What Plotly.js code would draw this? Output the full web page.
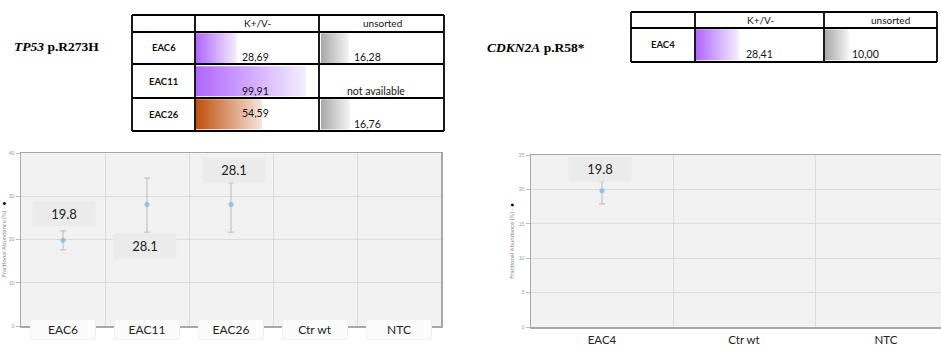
<!DOCTYPE html>
<html>
<head>
<meta charset="utf-8">
<script src="https://cdn.plot.ly/plotly-3.0.1.min.js"></script>
<style>html,body{margin:0;padding:0;background:#fff;}#chart{width:941px;height:349px;}</style>
</head>
<body>
<div id="chart"></div>
<script>
// ---------- data ----------
const leftGene = '<i>TP53</i> p.R273H';
const rightGene = '<i>CDKN2A</i> p.R58*';
const tableHeaders = ['K+/V-', 'unsorted'];
const leftRows = ['EAC6', 'EAC11', 'EAC26'];
const leftKV = [28.69, 99.91, 54.59];
const leftUnsorted = [16.28, null, 16.76];
const rightRows = ['EAC4'];
const rightKV = [28.41];
const rightUnsorted = [10.00];
const missingText = 'not available';

const leftCats = ['EAC6', 'EAC11', 'EAC26', 'Ctr wt', 'NTC'];
const leftFA = [19.8, 28.1, 28.1, null, null];
const leftUpper = [22.0, 34.2, 33.1, null, null];
const leftLower = [17.6, 21.7, 21.7, null, null];
const rightCats = ['EAC4', 'Ctr wt', 'NTC'];
const rightFA = [19.8, null, null];
const rightUpper = [21.2, null, null];
const rightLower = [17.9, null, null];
const yTitle = 'Fractional Abundance (%) - <span style="color:#000">●</span>';

// ---------- layout helpers ----------
const W = 941, H = 349;
const px = x => x / W;
const py = y => 1 - y / H;
const fmt = v => v.toFixed(2).replace('.', ',');

const PURPLE = [[0, '#b066ff'], [1, '#f5efff']];
const BROWN = [[0, '#c0500f'], [1, '#f5e6dc']];
const GRAY = [[0, '#a8a8a8'], [1, '#f4f4f4']];
const leftKVScales = [PURPLE, PURPLE, BROWN];

const traces = [];
const shapes = [];
const annotations = [];

function barTrace(v, i, base, scale, xa, ya) {
  const t0 = i + 0.04, t1 = i + 0.95;
  return {
    type: 'scatter', x: [base, v, v, base, base], y: [t0, t0, t1, t1, t0],
    fill: 'toself', mode: 'lines', line: {width: 0, color: 'rgba(0,0,0,0)'},
    fillcolor: scale[0][1],
    fillgradient: {type: 'horizontal', colorscale: scale},
    xaxis: xa, yaxis: ya, hoverinfo: 'skip', showlegend: false
  };
}

// chart backgrounds (tables stay white)
['', '2'].forEach(n => shapes.push({type: 'rect', xref: 'x' + n + ' domain', yref: 'y' + n + ' domain',
  x0: 0, x1: 1, y0: 0, y1: 1, fillcolor: '#f2f2f2', line: {width: 0}, layer: 'below'}));

// ---------- scatter charts ----------
function errTrace(cats, vals, up, lo, xa, ya) {
  return {
    type: 'scatter', mode: 'markers', x: cats, y: vals,
    marker: {color: '#8ec1ee', size: 5},
    error_y: {type: 'data', symmetric: false,
      array: vals.map((v, i) => v == null ? null : +(up[i] - v).toFixed(2)),
      arrayminus: vals.map((v, i) => v == null ? null : +(v - lo[i]).toFixed(2)),
      color: '#c4c4c4', thickness: 1.2, width: 3},
    xaxis: xa, yaxis: ya, showlegend: false, hoverinfo: 'x+y'
  };
}
traces.push(errTrace(leftCats, leftFA, leftUpper, leftLower, 'x', 'y'));
traces.push(errTrace(rightCats, rightFA, rightUpper, rightLower, 'x2', 'y2'));

// value labels
const labelFont = {family: 'Lato, "Open Sans", sans-serif', size: 13, color: '#222'};
const leftLabelShift = [[1, 26], [-2, -42], [3, 34.5], null, null];
leftFA.forEach((v, i) => {
  if (v == null) return;
  annotations.push({xref: 'x', yref: 'y', x: leftCats[i], y: v, text: v.toFixed(1),
    showarrow: false, xshift: leftLabelShift[i][0], yshift: leftLabelShift[i][1],
    width: 60, height: 22, bgcolor: '#ebebeb', font: labelFont});
});
rightFA.forEach((v, i) => {
  if (v == null) return;
  annotations.push({xref: 'x2', yref: 'y2', x: rightCats[i], y: v, text: v.toFixed(1),
    showarrow: false, xshift: -2, yshift: 21.5,
    width: 60, height: 22, bgcolor: '#ebebeb', font: labelFont});
});
// left category labels in faint boxes
leftCats.forEach(c => {
  annotations.push({xref: 'x', yref: 'paper', x: c, y: py(339.5), text: c, showarrow: false,
    width: 62, height: 17, bgcolor: '#fbfbfb', bordercolor: '#f0f0f0', borderwidth: 1,
    font: {family: 'Lato, "Open Sans", sans-serif', size: 12, color: '#222'}});
});

// ---------- tables ----------
const kvBaseL = -13.6;
leftKV.forEach((v, i) => traces.push(barTrace(v, i, kvBaseL, leftKVScales[i], 'x3', 'y3')));
leftUnsorted.forEach((v, i) => { if (v != null) traces.push(barTrace(v, i, 0, GRAY, 'x4', 'y4')); });
rightKV.forEach((v, i) => traces.push(barTrace(v, i, 0, PURPLE, 'x5', 'y5')));
rightUnsorted.forEach((v, i) => traces.push(barTrace(v, i, 0, GRAY, 'x6', 'y6')));

const line = (x0, y0, x1, y1, w) => shapes.push({type: 'line', xref: 'paper', yref: 'paper',
  x0: px(x0), y0: py(y0), x1: px(x1), y1: py(y1), line: {color: '#000', width: w}});
[15, 32, 64, 98, 131].forEach(y => line(132, y, 444, y, 2));
[132, 195, 319, 444].forEach(x => line(x, 15, x, 131, 1.8));
[12, 28, 62].forEach(y => line(631, y, 937, y, 2));
[631, 695, 824, 937].forEach(x => line(x, 12, x, 62, 1.8));

const cellFont = {family: 'Lato, "Open Sans", sans-serif', size: 10.5, color: '#111'};
const headFont = {family: 'Lato, "Open Sans", sans-serif', size: 10, color: '#111'};
const boldFont = {family: 'Lato, "Open Sans", sans-serif', size: 9.5, color: '#111', weight: 'bold'};
const txt = (x, y, t, f, xa) => annotations.push({xref: 'paper', yref: 'paper', x: px(x), y: py(y),
  text: t, showarrow: false, font: f, xanchor: xa || 'center', yanchor: 'middle'});

txt(257, 23.5, tableHeaders[0], headFont);
txt(382, 23.5, tableHeaders[1], headFont);
txt(760, 20, tableHeaders[0], headFont);
txt(890, 20, tableHeaders[1], headFont);
const rowTop = [32, 64, 98], rowBot = [64, 98, 131];
const kvValign = ['bottom', 'bottom', 'middle'];
leftRows.forEach((r, i) => {
  const mid = (rowTop[i] + rowBot[i]) / 2;
  txt(163.5, mid, '<b>' + r + '</b>', boldFont);
  txt(255.5, kvValign[i] === 'bottom' ? rowBot[i] - 7 : mid - 1.5, fmt(leftKV[i]), cellFont);
  if (leftUnsorted[i] != null) txt(367.5, rowBot[i] - 7.5, fmt(leftUnsorted[i]), cellFont);
  else txt(375.5, rowBot[i] - 7, missingText, cellFont);
});
rightRows.forEach((r, i) => {
  txt(663, 45, '<b>' + r + '</b>', boldFont);
  txt(759.5, 53.5, fmt(rightKV[i]), cellFont);
  txt(865, 53.5, fmt(rightUnsorted[i]), cellFont);
});
const geneFont = {family: '"Liberation Serif", "DejaVu Serif", serif', size: 13.5, color: '#000', weight: 'bold'};
txt(12, 47, '<b>' + leftGene + '</b>', geneFont, 'left');
txt(485, 48, '<b>' + rightGene + '</b>', geneFont, 'left');

// ---------- axes ----------
const tickF = {family: 'Lato, "Open Sans", sans-serif', size: 5, color: '#999'};
const yTitleObj = {text: yTitle, font: {family: 'Lato, "Open Sans", sans-serif', size: 6, color: '#888'}, standoff: 3};
const hidden = {visible: false, fixedrange: true};

const layout = {
  width: W, height: H, margin: {l: 0, r: 0, t: 0, b: 0},
  paper_bgcolor: '#fff', plot_bgcolor: '#fff', showlegend: false,
  xaxis: {domain: [px(21), px(441)], anchor: 'y', type: 'category', range: [-0.5, 4.5],
    tickson: 'boundaries', showgrid: true, gridcolor: '#dcdcdc', gridwidth: 1,
    showline: true, linecolor: '#a8a8a8', linewidth: 1.5, mirror: true,
    showticklabels: false, ticks: '', zeroline: false, fixedrange: true},
  yaxis: {domain: [py(326), py(153)], anchor: 'x', range: [0, 40], dtick: 10,
    showgrid: true, gridcolor: '#dcdcdc', showline: true, linecolor: '#a8a8a8', linewidth: 1.5, mirror: true,
    ticks: 'outside', ticklen: 4, tickcolor: '#bbb', tickfont: tickF, title: yTitleObj, zeroline: false, fixedrange: true},
  xaxis2: {domain: [px(531), px(941)], anchor: 'y2', type: 'category', range: [-0.5, (941 - 531) / 142 - 0.5],
    tickson: 'boundaries', showgrid: true, gridcolor: '#dcdcdc',
    showline: true, linecolor: '#a8a8a8', linewidth: 1.5, mirror: true,
    ticks: '', ticklabelstandoff: 2, tickfont: {family: 'Lato, "Open Sans", sans-serif', size: 11.5, color: '#222'},
    zeroline: false, fixedrange: true},
  yaxis2: {domain: [py(327), py(155)], anchor: 'x2', range: [0, 25], dtick: 5,
    showgrid: true, gridcolor: '#dcdcdc', showline: true, linecolor: '#a8a8a8', linewidth: 1.5, mirror: true,
    ticks: 'outside', ticklen: 4, tickcolor: '#bbb', tickfont: tickF, title: yTitleObj, zeroline: false, fixedrange: true},
  xaxis3: Object.assign({domain: [px(196), px(319)], anchor: 'y3', range: [kvBaseL, kvBaseL + 123 / 0.969]}, hidden),
  yaxis3: Object.assign({domain: [py(131), py(32)], anchor: 'x3', range: [3, 0]}, hidden),
  xaxis4: Object.assign({domain: [px(321), px(444)], anchor: 'y4', range: [0, 123 / 1.72]}, hidden),
  yaxis4: Object.assign({domain: [py(131), py(32)], anchor: 'x4', range: [3, 0]}, hidden),
  xaxis5: Object.assign({domain: [px(696), px(824)], anchor: 'y5', range: [0, 128 / 1.514]}, hidden),
  yaxis5: Object.assign({domain: [py(62), py(28)], anchor: 'x5', range: [1, 0]}, hidden),
  xaxis6: Object.assign({domain: [px(825), px(937)], anchor: 'y6', range: [0, 112 / 2.4]}, hidden),
  yaxis6: Object.assign({domain: [py(62), py(28)], anchor: 'x6', range: [1, 0]}, hidden),
  shapes: shapes,
  annotations: annotations
};

Plotly.newPlot('chart', traces, layout, {displayModeBar: false, staticPlot: true});
</script>
</body>
</html>
